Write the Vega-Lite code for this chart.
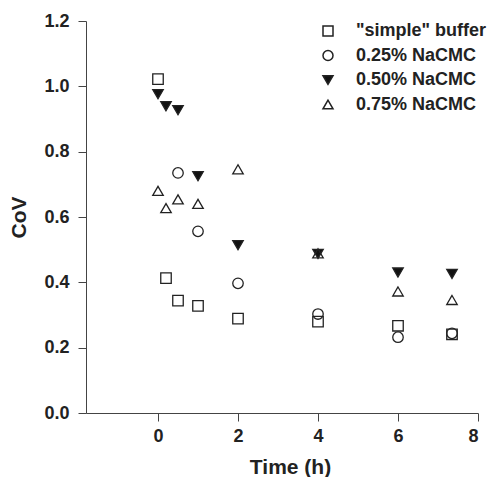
{
  "$schema": "https://vega.github.io/schema/vega-lite/v6.json",
  "autosize": {"type": "none"},
  "padding": {"left": 86, "top": 21, "right": 12, "bottom": 64},
  "width": 392,
  "height": 392,
  "background": "white",
  "config": {
    "view": {"stroke": null},
    "font": "Liberation Sans",
    "axis": {
      "grid": false,
      "domainColor": "#444",
      "tickColor": "#444",
      "tickSize": 8,
      "labelFont": "Liberation Sans",
      "labelFontWeight": "bold",
      "labelFontSize": 18,
      "labelColor": "#222",
      "labelPadding": 6,
      "titleFont": "Liberation Sans",
      "titleFontWeight": "bold",
      "titleFontSize": 21,
      "titleColor": "#222"
    },
    "legend": {
      "labelFont": "Liberation Sans",
      "labelFontWeight": "bold",
      "labelFontSize": 18,
      "labelColor": "#222"
    }
  },
  "data": {
    "values": [
      {"t": 0, "cov": 1.022, "g": "\"simple\" buffer"},
      {"t": 0.2, "cov": 0.413, "g": "\"simple\" buffer"},
      {"t": 0.5, "cov": 0.344, "g": "\"simple\" buffer"},
      {"t": 1, "cov": 0.328, "g": "\"simple\" buffer"},
      {"t": 2, "cov": 0.289, "g": "\"simple\" buffer"},
      {"t": 4, "cov": 0.28, "g": "\"simple\" buffer"},
      {"t": 6, "cov": 0.267, "g": "\"simple\" buffer"},
      {"t": 7.35, "cov": 0.241, "g": "\"simple\" buffer"},
      {"t": 0.5, "cov": 0.735, "g": "0.25% NaCMC"},
      {"t": 1, "cov": 0.556, "g": "0.25% NaCMC"},
      {"t": 2, "cov": 0.397, "g": "0.25% NaCMC"},
      {"t": 4, "cov": 0.303, "g": "0.25% NaCMC"},
      {"t": 6, "cov": 0.232, "g": "0.25% NaCMC"},
      {"t": 7.35, "cov": 0.244, "g": "0.25% NaCMC"},
      {"t": 0, "cov": 0.976, "g": "0.50% NaCMC"},
      {"t": 0.2, "cov": 0.939, "g": "0.50% NaCMC"},
      {"t": 0.5, "cov": 0.927, "g": "0.50% NaCMC"},
      {"t": 1, "cov": 0.725, "g": "0.50% NaCMC"},
      {"t": 2, "cov": 0.514, "g": "0.50% NaCMC"},
      {"t": 4, "cov": 0.487, "g": "0.50% NaCMC"},
      {"t": 6, "cov": 0.43, "g": "0.50% NaCMC"},
      {"t": 7.35, "cov": 0.426, "g": "0.50% NaCMC"},
      {"t": 0, "cov": 0.68, "g": "0.75% NaCMC"},
      {"t": 0.2, "cov": 0.627, "g": "0.75% NaCMC"},
      {"t": 0.5, "cov": 0.654, "g": "0.75% NaCMC"},
      {"t": 1, "cov": 0.64, "g": "0.75% NaCMC"},
      {"t": 2, "cov": 0.746, "g": "0.75% NaCMC"},
      {"t": 4, "cov": 0.489, "g": "0.75% NaCMC"},
      {"t": 6, "cov": 0.372, "g": "0.75% NaCMC"},
      {"t": 7.35, "cov": 0.346, "g": "0.75% NaCMC"}
    ]
  },
  "mark": {"type": "point", "size": 110, "strokeWidth": 1.3, "opacity": 1, "stroke": "#222"},
  "encoding": {
    "x": {
      "field": "t",
      "type": "quantitative",
      "title": "Time (h)",
      "scale": {"domain": [-1.8, 8], "nice": false, "zero": false},
      "axis": {"values": [0, 2, 4, 6, 8], "titlePadding": 11, "titleX": 204}
    },
    "y": {
      "field": "cov",
      "type": "quantitative",
      "title": "CoV",
      "scale": {"domain": [0, 1.2], "nice": false},
      "axis": {"values": [0, 0.2, 0.4, 0.6, 0.8, 1.0, 1.2], "format": ".1f", "titlePadding": 14, "labelPadding": 9}
    },
    "shape": {
      "field": "g",
      "type": "nominal",
      "scale": {
        "domain": ["\"simple\" buffer", "0.25% NaCMC", "0.50% NaCMC", "0.75% NaCMC"],
        "range": ["square", "circle", "triangle-down", "triangle-up"]
      },
      "legend": {
        "title": null,
        "orient": "none",
        "legendX": 233,
        "legendY": 1,
        "symbolSize": 100,
        "labelOffset": 19,
        "rowPadding": 6.5,
        "encode": {
          "symbols": {
            "update": {
              "stroke": {"value": "#222"},
              "strokeWidth": {"value": 1.3},
              "opacity": {"value": 1}
            }
          }
        }
      }
    },
    "fill": {
      "field": "g",
      "type": "nominal",
      "scale": {
        "domain": ["\"simple\" buffer", "0.25% NaCMC", "0.50% NaCMC", "0.75% NaCMC"],
        "range": ["transparent", "transparent", "#111", "transparent"]
      },
      "legend": null
    }
  }
}
